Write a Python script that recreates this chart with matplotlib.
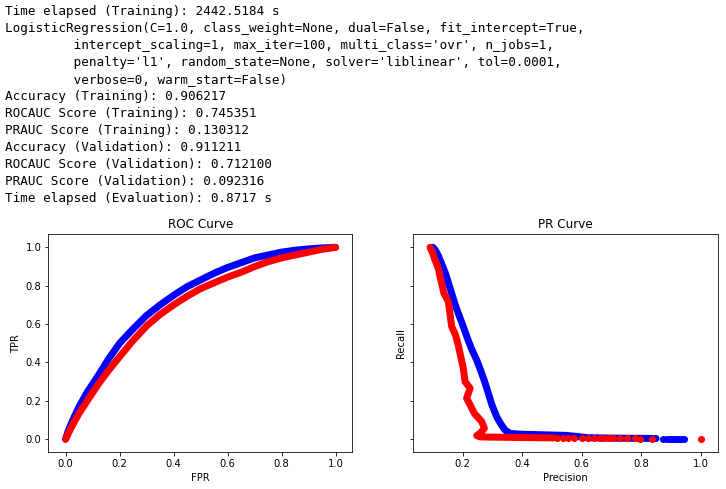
import matplotlib
matplotlib.use("Agg")
import matplotlib.pyplot as plt

# ---------------- text output lines ----------------
log_lines = [
    "Time elapsed (Training): 2442.5184 s",
    "LogisticRegression(C=1.0, class_weight=None, dual=False, fit_intercept=True,",
    "         intercept_scaling=1, max_iter=100, multi_class='ovr', n_jobs=1,",
    "         penalty='l1', random_state=None, solver='liblinear', tol=0.0001,",
    "         verbose=0, warm_start=False)",
    "Accuracy (Training): 0.906217",
    "ROCAUC Score (Training): 0.745351",
    "PRAUC Score (Training): 0.130312",
    "Accuracy (Validation): 0.911211",
    "ROCAUC Score (Validation): 0.712100",
    "PRAUC Score (Validation): 0.092316",
    "Time elapsed (Evaluation): 0.8717 s",
]

# ---------------- ROC data ----------------
roc_fpr = [0.0, 0.01, 0.03, 0.05, 0.08, 0.12, 0.16, 0.2, 0.25, 0.3, 0.35, 0.4,
           0.45, 0.5, 0.55, 0.6, 0.65, 0.7, 0.75, 0.8, 0.85, 0.9, 0.95, 1.0]
roc_tpr_train = [0.0, 0.045, 0.11, 0.17, 0.245, 0.33, 0.42, 0.50, 0.575, 0.645,
                 0.70, 0.75, 0.795, 0.83, 0.865, 0.895, 0.92, 0.945, 0.96,
                 0.975, 0.985, 0.992, 0.997, 1.0]
roc_tpr_val = [0.0, 0.03, 0.085, 0.135, 0.2, 0.285, 0.36, 0.43, 0.515, 0.59,
               0.65, 0.70, 0.745, 0.785, 0.815, 0.845, 0.87, 0.90, 0.925,
               0.945, 0.96, 0.975, 0.99, 1.0]

# ---------------- PR data ----------------
pr_prec_train = [0.100, 0.108, 0.117, 0.124, 0.133, 0.143, 0.153, 0.163, 0.175,
                 0.188, 0.202, 0.215, 0.230, 0.247, 0.260, 0.274, 0.286, 0.298,
                 0.314, 0.328, 0.342, 0.36, 0.40, 0.45, 0.50, 0.55, 0.58, 0.62,
                 0.70, 0.78, 0.85]
pr_rec_train = [1.000, 0.985, 0.96, 0.934, 0.90, 0.86, 0.81, 0.76, 0.70, 0.645,
                0.587, 0.53, 0.47, 0.413, 0.36, 0.30, 0.24, 0.18, 0.118, 0.08,
                0.048, 0.03, 0.026, 0.024, 0.022, 0.02, 0.015, 0.008, 0.006,
                0.005, 0.004]
pr_prec_train_tail = [0.872, 0.885, 0.895, 0.905, 0.915, 0.925, 0.935, 0.945]
pr_rec_train_tail = [0.003, 0.003, 0.002, 0.002, 0.002, 0.001, 0.001, 0.0]

pr_prec_val = [0.090, 0.098, 0.107, 0.118, 0.128, 0.137, 0.152, 0.163, 0.176,
               0.185, 0.202, 0.208, 0.225, 0.213, 0.225, 0.239, 0.264, 0.273,
               0.258, 0.247, 0.26, 0.30, 0.35, 0.40, 0.45, 0.505]
pr_rec_val = [1.000, 0.975, 0.934, 0.89, 0.82, 0.76, 0.717, 0.587, 0.543, 0.491,
              0.37, 0.30, 0.266, 0.214, 0.179, 0.135, 0.092, 0.057, 0.031,
              0.019, 0.012, 0.011, 0.01, 0.009, 0.008, 0.007]
pr_prec_val_tail = [0.518, 0.536, 0.555, 0.574, 0.602, 0.621, 0.640, 0.66, 0.675,
                    0.69, 0.705, 0.729, 0.751, 0.779, 0.796, 0.835, 1.0]
pr_rec_val_tail = [0.006, 0.006, 0.005, 0.005, 0.005, 0.005, 0.005, 0.005, 0.005,
                   0.005, 0.005, 0.004, 0.004, 0.004, 0.003, 0.003, 0.0]

# ---------------- figure ----------------
W, H, DPI = 726, 489, 72
fig = plt.figure(figsize=(W / DPI, H / DPI), dpi=DPI, facecolor="white")

for i, line in enumerate(log_lines):
    fig.text(5 / W, 1 - (15 + 17 * i) / H, line, family="DejaVu Sans Mono",
             fontsize=12.6, va="baseline", ha="left", color="#000000")

ax1 = fig.add_axes([48.3 / W, 1 - 452.3 / H, 304 / W, 218 / H])
ax2 = fig.add_axes([413.3 / W, 1 - 452.3 / H, 305 / W, 218 / H], sharey=ax1)

band = dict(lw=7, solid_capstyle="round", solid_joinstyle="round")
dots = dict(ls="none", marker="o", ms=6)

ax1.plot(roc_fpr, roc_tpr_train, color="b", **band)
ax1.plot(roc_fpr, roc_tpr_val, color="r", **band)
ax1.set_xlim(-0.064, 1.062)
ax1.set_ylim(-0.068, 1.068)
ax1.set_title("ROC Curve")
ax1.set_xlabel("FPR")
ax1.set_ylabel("TPR")

ax2.plot(pr_prec_train, pr_rec_train, color="b", **band)
ax2.plot(pr_prec_train_tail, pr_rec_train_tail, color="b", **dots)
ax2.plot(pr_prec_val, pr_rec_val, color="r", **band)
ax2.plot(pr_prec_val_tail, pr_rec_val_tail, color="r", **dots)
ax2.set_xlim(0.034, 1.059)
ax2.set_title("PR Curve")
ax2.set_xlabel("Precision")
ax2.set_ylabel("Recall")
plt.setp(ax2.get_yticklabels(), visible=False)

fig.savefig("out.png", dpi=DPI, facecolor="white")
